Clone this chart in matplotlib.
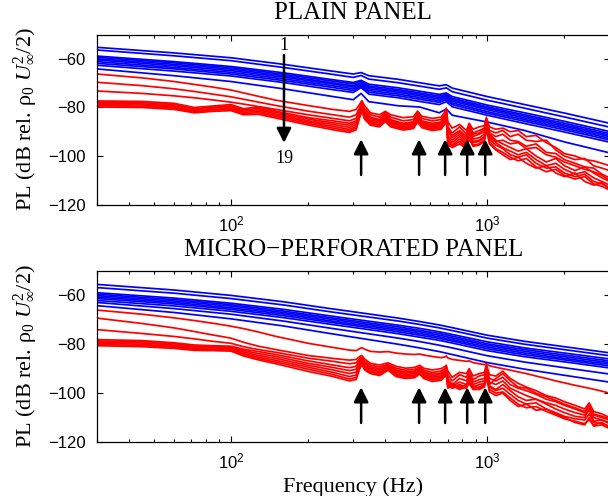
"""
Espectros de presion de pared (PL) para 19 casos,
panel liso arriba y panel micro-perforado abajo.
Salida: out.png
"""

import matplotlib
matplotlib.use("Agg")
import matplotlib.pyplot as plt
from matplotlib.ticker import NullFormatter, LogLocator


# ============================================================
# DATOS
# ============================================================

# --- panel liso: curvas azules (casos 1-10)
PLAIN_FREQ_BLUE = [30, 60, 100, 160, 240, 300, 322, 345, 450, 545,
                   650, 692, 730, 1000, 1400, 2000, 3000]

PLAIN_BLUE_DB = [
    [-55.2, -57.5, -59.5, -62.2, -64.8, -66.2, -65.6, -66.9, -68.4, -69.8, -71.1, -70.6, -72.0, -75.5, -78.8, -82.3, -86.5],
    [-56.3, -58.7, -60.7, -63.5, -66.1, -67.6, -66.8, -68.3, -69.8, -71.2, -72.5, -71.9, -73.5, -77.0, -80.3, -83.9, -88.1],
    [-58.8, -61.1, -63.1, -65.7, -68.3, -69.7, -68.8, -70.4, -71.9, -73.3, -74.6, -74.0, -75.5, -79.0, -82.2, -85.7, -89.9],
    [-59.3, -61.6, -63.6, -66.3, -68.9, -70.3, -69.2, -71.1, -72.6, -74.0, -75.3, -74.6, -76.2, -79.7, -83.0, -86.5, -90.7],
    [-59.9, -62.2, -64.2, -66.9, -69.6, -71.0, -69.8, -71.7, -73.2, -74.6, -75.9, -75.1, -76.8, -80.3, -83.6, -87.2, -91.4],
    [-60.4, -62.8, -64.8, -67.5, -70.1, -71.6, -70.2, -72.3, -73.8, -75.2, -76.5, -75.6, -77.4, -80.9, -84.3, -87.8, -92.0],
    [-61.1, -63.5, -65.5, -68.2, -70.8, -72.3, -70.7, -73.0, -74.5, -75.9, -77.2, -76.2, -78.1, -81.7, -85.0, -88.5, -92.7],
    [-61.8, -64.1, -66.2, -68.9, -71.5, -73.0, -71.2, -73.7, -75.2, -76.6, -77.9, -76.8, -78.8, -82.4, -85.7, -89.2, -93.4],
    [-62.6, -65.0, -67.0, -69.7, -72.4, -73.8, -71.8, -74.5, -76.0, -77.5, -78.8, -77.6, -79.7, -83.2, -86.6, -90.1, -94.3],
    [-64.1, -66.9, -69.3, -72.3, -75.2, -76.8, -74.2, -77.6, -79.3, -79.8, -82.2, -80.6, -83.2, -86.0, -89.5, -94.2, -98.7],
]

# --- panel liso: curvas rojas (casos 11-19)
PLAIN_FREQ_RED = [30, 45, 60, 72, 85, 100, 112, 128, 150, 200,
                  250, 290, 308, 318, 324, 332, 350, 380, 400, 420,
                  470, 515, 535, 555, 610, 660, 682, 692, 702, 730,
                  780, 830, 850, 880, 930, 975, 992, 1020, 1080, 1150,
                  1230, 1320, 1420, 1550, 1700, 1850, 2000, 2200, 2400, 2600,
                  2800, 3000]

PLAIN_RED_DB = [
    [-66.2, -67.8, -69.3, -70.5, -71.6, -72.8, -74.0, -75.4, -77.0, -79.2,
     -80.8, -81.6, -80.8, -78.6, -77.2, -79.2, -82.2, -83.0, -81.6, -83.0,
     -84.2, -83.8, -81.5, -83.6, -84.5, -84.0, -82.0, -80.2, -86.0, -88.5,
     -87.0, -89.5, -86.5, -89.0, -88.0, -87.5, -84.0, -88.0, -89.0, -88.5,
     -90.0, -89.5, -92.0, -91.5, -94.5, -96.5, -99.0, -100.0, -101.5, -102.0,
     -103.0, -104.0],
    [-69.6, -71.0, -72.3, -73.4, -74.5, -75.6, -76.6, -77.8, -79.2, -81.5,
     -83.0, -84.0, -83.0, -80.0, -78.0, -80.5, -83.0, -84.0, -82.0, -84.0,
     -85.5, -85.0, -82.2, -84.5, -85.5, -85.0, -83.0, -81.0, -88.0, -90.5,
     -88.0, -91.0, -87.0, -90.5, -89.5, -88.5, -84.8, -89.5, -90.5, -89.5,
     -92.0, -91.0, -93.5, -94.0, -93.5, -97.5, -100.0, -101.5, -101.0, -104.0,
     -105.0, -106.0],
    [-73.2, -74.2, -75.2, -76.0, -76.9, -77.8, -78.6, -79.6, -80.8, -83.0,
     -84.5, -85.5, -84.5, -81.0, -78.5, -81.5, -84.0, -85.0, -82.5, -85.0,
     -86.5, -86.0, -82.8, -85.5, -86.5, -86.0, -83.5, -81.0, -89.0, -91.5,
     -89.5, -92.0, -87.5, -91.0, -90.5, -89.0, -85.0, -90.5, -92.0, -91.0,
     -93.5, -94.0, -96.0, -95.0, -98.5, -99.0, -101.5, -103.0, -104.5, -105.0,
     -107.5, -109.0],
    [-77.3, -77.5, -78.3, -80.0, -79.4, -78.8, -80.5, -79.8, -81.5, -84.2,
     -85.5, -86.5, -85.5, -81.5, -79.0, -82.0, -84.5, -85.5, -83.0, -85.5,
     -86.8, -86.0, -83.2, -85.8, -87.0, -86.5, -84.5, -82.0, -90.0, -92.5,
     -90.0, -93.0, -88.0, -92.0, -91.0, -90.0, -85.5, -91.0, -93.5, -95.0,
     -96.5, -98.0, -97.0, -100.0, -102.5, -101.0, -104.0, -106.0, -104.5, -107.0,
     -109.0, -110.5],
    [-77.8, -78.0, -78.8, -80.5, -79.8, -79.3, -81.0, -80.4, -82.0, -84.8,
     -86.3, -87.3, -86.2, -82.0, -79.5, -82.6, -85.2, -86.0, -83.6, -86.0,
     -87.3, -86.6, -83.8, -86.3, -87.5, -87.0, -85.0, -82.5, -91.5, -93.5,
     -91.0, -94.0, -89.0, -93.0, -92.5, -91.0, -86.5, -92.0, -94.5, -96.5,
     -98.0, -99.5, -98.5, -101.5, -104.0, -103.0, -105.5, -107.5, -106.5, -109.0,
     -110.5, -112.0],
    [-78.3, -78.5, -79.3, -81.0, -80.3, -79.8, -81.5, -81.0, -82.6, -85.5,
     -87.0, -88.2, -87.0, -82.5, -80.0, -83.2, -85.8, -86.5, -84.2, -86.5,
     -87.8, -87.2, -84.5, -86.8, -88.0, -87.5, -85.5, -83.0, -92.5, -94.5,
     -92.0, -95.0, -90.0, -94.0, -93.5, -92.0, -87.0, -93.0, -95.5, -97.0,
     -99.5, -100.5, -99.5, -103.0, -105.0, -104.5, -107.0, -108.5, -107.5, -110.5,
     -111.5, -113.0],
    [-78.8, -79.0, -79.8, -81.4, -80.8, -80.3, -82.0, -81.6, -83.2, -86.0,
     -87.8, -89.0, -87.8, -83.0, -80.5, -83.8, -86.3, -87.0, -84.8, -87.0,
     -88.3, -87.7, -85.0, -87.3, -88.5, -88.0, -86.0, -83.5, -93.5, -95.5,
     -93.0, -95.5, -91.0, -94.5, -94.0, -92.5, -87.5, -92.0, -94.0, -93.5,
     -95.0, -94.5, -97.0, -96.5, -99.5, -100.5, -102.5, -104.0, -105.5, -106.5,
     -108.0, -110.0],
    [-79.3, -79.5, -80.3, -81.8, -81.2, -80.8, -82.5, -82.2, -83.8, -86.6,
     -88.5, -89.7, -88.5, -83.5, -81.0, -84.3, -86.8, -87.5, -85.3, -87.5,
     -88.8, -88.2, -85.5, -87.8, -89.0, -88.5, -86.5, -84.0, -94.5, -96.0,
     -94.0, -96.5, -92.0, -95.5, -95.0, -93.5, -88.5, -94.0, -97.0, -98.5,
     -100.5, -102.0, -101.0, -104.5, -106.5, -105.5, -108.0, -109.5, -108.5, -111.5,
     -112.5, -114.0],
    [-79.8, -80.0, -80.8, -82.2, -81.6, -81.3, -83.0, -82.8, -84.4, -87.2,
     -89.2, -90.3, -89.2, -84.0, -81.5, -84.8, -87.3, -88.0, -85.8, -88.0,
     -89.3, -88.7, -86.0, -88.3, -89.5, -89.0, -87.0, -84.5, -95.5, -96.5,
     -95.0, -97.0, -93.0, -96.0, -95.5, -94.0, -89.0, -95.0, -97.5, -99.5,
     -101.5, -100.5, -103.0, -105.0, -104.0, -107.0, -108.5, -107.0, -110.5, -112.0,
     -111.0, -113.5],
]

# --- panel micro-perforado: curvas azules
MICRO_FREQ_BLUE = [30, 60, 100, 160, 240, 300, 450, 545, 650, 730,
                   1000, 1400, 2000, 3000]

MICRO_BLUE_DB = [
    [-55.5, -57.8, -60.0, -62.6, -65.3, -66.7, -69.3, -70.7, -72.1, -73.2, -76.3, -78.8, -81.0, -83.5],
    [-56.8, -59.1, -61.3, -63.9, -66.6, -68.0, -70.5, -71.9, -73.3, -74.4, -77.5, -80.0, -82.2, -84.7],
    [-58.9, -61.1, -63.2, -65.7, -68.3, -69.7, -72.2, -73.5, -74.9, -76.0, -79.0, -81.5, -83.6, -86.0],
    [-59.5, -61.7, -63.8, -66.4, -69.0, -70.4, -72.9, -74.3, -75.6, -76.7, -79.8, -82.2, -84.4, -86.8],
    [-60.1, -62.3, -64.4, -67.0, -69.6, -71.0, -73.6, -74.9, -76.3, -77.4, -80.4, -82.9, -85.1, -87.5],
    [-60.7, -62.9, -65.1, -67.6, -70.3, -71.7, -74.2, -75.6, -77.0, -78.1, -81.1, -83.6, -85.8, -88.2],
    [-61.3, -63.5, -65.7, -68.3, -70.9, -72.3, -74.9, -76.3, -77.6, -78.7, -81.8, -84.3, -86.4, -88.9],
    [-62.1, -64.3, -66.5, -69.1, -71.7, -73.1, -75.7, -77.1, -78.4, -79.5, -82.6, -85.1, -87.2, -89.7],
    [-62.9, -65.4, -67.7, -70.5, -73.3, -74.8, -77.5, -78.9, -80.4, -81.5, -84.7, -87.3, -89.6, -92.2],
    [-64.2, -67.0, -69.6, -72.5, -75.5, -77.1, -80.0, -81.5, -83.0, -84.2, -87.5, -90.2, -92.7, -95.5],
]

# --- panel micro-perforado: curvas rojas
MICRO_FREQ_RED = [30, 45, 60, 72, 85, 100, 112, 128, 150, 200,
                  250, 290, 308, 318, 324, 332, 350, 380, 410, 440,
                  480, 520, 545, 565, 610, 660, 682, 692, 702, 730,
                  780, 830, 850, 880, 930, 975, 992, 1020, 1080, 1150,
                  1230, 1320, 1420, 1550, 1700, 1850, 2000, 2200, 2400, 2500,
                  2600, 2800, 3000]

MICRO_RED_DB = [
    [-66.0, -67.7, -69.2, -70.3, -71.4, -72.6, -73.6, -75.0, -76.8, -79.6,
     -81.3, -82.4, -82.6, -81.8, -81.4, -82.0, -82.9, -83.2, -83.0, -83.6,
     -84.0, -84.2, -84.0, -84.4, -85.0, -85.5, -85.2, -84.8, -85.6, -86.2,
     -86.6, -87.0, -86.8, -87.5, -88.0, -88.3, -88.0, -88.8, -89.4, -90.0,
     -90.6, -91.3, -92.0, -93.0, -94.0, -95.0, -95.8, -96.8, -97.6, -98.0,
     -98.4, -99.2, -100.0],
    [-69.3, -71.5, -73.3, -74.8, -76.2, -77.5, -79.2, -80.8, -82.2, -84.6,
     -85.8, -86.5, -86.2, -85.0, -84.6, -86.0, -87.8, -88.5, -87.6, -89.0,
     -89.8, -89.5, -88.6, -89.8, -90.5, -90.0, -89.2, -88.6, -91.0, -93.5,
     -91.5, -92.0, -90.0, -93.0, -92.0, -91.5, -88.2, -92.5, -93.0, -91.0,
     -94.0, -96.0, -97.5, -99.0, -101.0, -102.0, -103.5, -105.0, -106.5, -104.0,
     -107.5, -108.5, -110.0],
    [-74.0, -75.6, -76.8, -77.8, -78.8, -79.6, -81.0, -82.2, -83.3, -85.7,
     -87.0, -88.0, -87.6, -85.8, -85.3, -86.8, -88.5, -89.3, -88.2, -89.8,
     -90.6, -90.3, -89.3, -90.6, -91.5, -91.0, -90.0, -89.4, -92.5, -95.0,
     -92.5, -93.5, -91.0, -94.5, -93.0, -92.5, -89.0, -94.0, -95.0, -93.5,
     -96.5, -98.0, -99.0, -100.5, -102.5, -103.5, -105.0, -106.5, -108.0, -106.0,
     -109.0, -110.0, -111.0],
    [-78.1, -78.5, -79.4, -80.3, -80.6, -80.8, -82.0, -83.0, -84.2, -86.8,
     -88.5, -89.6, -89.0, -86.5, -85.8, -87.5, -89.2, -90.0, -88.6, -90.5,
     -91.3, -91.0, -89.8, -91.3, -92.2, -91.8, -90.6, -89.8, -94.0, -96.5,
     -94.0, -95.0, -92.5, -95.5, -94.5, -94.0, -90.0, -95.5, -96.5, -95.0,
     -98.0, -99.5, -101.0, -102.5, -104.0, -105.0, -106.5, -108.0, -109.0, -107.0,
     -110.0, -111.0, -112.0],
    [-78.6, -79.0, -79.8, -80.8, -81.0, -81.2, -82.6, -83.8, -85.0, -87.8,
     -89.5, -90.8, -90.2, -87.2, -86.3, -88.2, -89.8, -90.6, -89.0, -91.0,
     -91.8, -91.5, -90.2, -91.8, -92.8, -92.4, -91.2, -90.3, -95.0, -97.0,
     -95.5, -96.5, -93.5, -96.5, -95.5, -95.0, -91.0, -96.5, -94.0, -92.0,
     -95.0, -97.5, -98.0, -100.0, -101.5, -103.0, -104.5, -106.0, -107.5, -105.0,
     -108.5, -109.5, -110.5],
    [-79.1, -79.5, -80.3, -81.3, -81.4, -81.6, -83.2, -84.6, -85.8, -88.6,
     -90.5, -92.0, -91.4, -88.0, -86.8, -88.8, -90.4, -91.2, -89.4, -91.6,
     -92.4, -92.0, -90.7, -92.4, -93.4, -93.0, -91.8, -90.8, -96.0, -97.5,
     -96.5, -97.5, -94.5, -97.5, -96.5, -96.0, -92.0, -97.5, -99.0, -98.0,
     -100.5, -103.0, -104.5, -104.0, -106.5, -108.0, -109.5, -110.5, -111.0, -108.5,
     -112.0, -112.5, -113.5],
    [-79.6, -80.0, -80.8, -81.7, -81.8, -82.0, -83.8, -85.3, -86.6, -89.4,
     -91.5, -93.2, -92.6, -88.8, -87.3, -89.4, -91.0, -91.8, -89.8, -92.2,
     -93.0, -92.6, -91.2, -93.0, -94.0, -93.6, -92.4, -91.3, -97.0, -98.0,
     -97.0, -98.0, -95.0, -98.0, -97.5, -96.5, -92.5, -98.5, -100.0, -99.5,
     -102.0, -104.5, -106.0, -105.5, -107.5, -109.0, -110.5, -111.5, -112.5, -111.0,
     -113.0, -112.0, -114.0],
    [-80.1, -80.5, -81.2, -82.1, -82.2, -82.4, -84.3, -85.9, -87.3, -90.2,
     -92.4, -94.2, -93.6, -89.5, -87.8, -90.0, -91.5, -92.3, -90.2, -92.7,
     -93.5, -93.2, -91.7, -93.5, -94.6, -94.2, -92.8, -91.8, -97.5, -96.0,
     -98.0, -96.5, -95.5, -97.0, -98.0, -97.0, -93.0, -97.0, -98.5, -96.5,
     -99.0, -101.5, -103.0, -102.5, -104.5, -106.5, -108.0, -109.5, -110.0, -106.5,
     -111.5, -111.0, -112.5],
    [-80.6, -81.0, -81.7, -82.5, -82.6, -82.8, -84.8, -86.4, -88.0, -91.1,
     -93.2, -95.0, -94.4, -90.0, -88.2, -90.5, -92.0, -92.8, -90.6, -93.2,
     -94.0, -93.7, -92.2, -94.0, -95.2, -94.8, -93.3, -92.3, -98.0, -97.0,
     -98.5, -97.5, -96.0, -98.5, -98.5, -97.5, -93.5, -99.5, -101.0, -100.0,
     -103.0, -105.5, -104.5, -107.0, -106.5, -108.5, -110.0, -112.0, -113.0, -110.0,
     -113.5, -113.0, -114.5],
]

# --- flechas de resonancias (Hz) y flecha de orden de casos
RESONANCE_FREQS = [322, 542, 685, 835, 982]
PLAIN_ARROW_DB = (-107.8, -93.1)
MICRO_ARROW_DB = (-112.2, -97.6)
ORDER_FREQ = 161
ORDER_ARROW_DB = (-58.4, -94.6)
ORDER_LABELS = ["1", "19"]
ORDER_LABEL_DB = [-54.6, -100.9]

XTICKS = [100, 1000]
XTICK_LABELS = [r"$\mathsf{10^{2}}$", r"$\mathsf{10^{3}}$"]
YTICKS = [-120, -100, -80, -60]

SERIF = "Liberation Serif"


# ============================================================
# CONFIGURACION
# ============================================================

plt.rcParams["font.family"] = "Liberation Sans"
plt.rcParams["mathtext.fontset"] = "custom"
plt.rcParams["mathtext.rm"] = "Liberation Serif"
plt.rcParams["mathtext.it"] = "Liberation Serif:italic"
plt.rcParams["mathtext.sf"] = "Liberation Sans"


# ============================================================
# FUNCIONES
# ============================================================

def add_arrow(ax, freq, tail, tip):

    ax.annotate(
        "",
        xy=(freq, tip),
        xytext=(freq, tail),
        arrowprops=dict(
            arrowstyle="-|>",
            color="black",
            lw=1.8,
            mutation_scale=22,
            shrinkA=0,
            shrinkB=0,
        ),
    )


def draw_panel(ax, title, freq_blue, blue_db, freq_red, red_db, arrow_db):

    for values in blue_db:
        ax.plot(freq_blue, values, color="blue", lw=1.25)

    for values in red_db:
        ax.plot(freq_red, values, color="red", lw=1.25)

    for freq in RESONANCE_FREQS:
        add_arrow(ax, freq, arrow_db[0], arrow_db[1])

    ax.set_xscale("log")
    ax.set_xlim(30, 3000)
    ax.set_ylim(-120, -50)

    ax.set_xticks(XTICKS)
    ax.set_xticklabels(XTICK_LABELS)
    ax.xaxis.set_minor_locator(LogLocator(base=10, subs=range(2, 10)))
    ax.xaxis.set_minor_formatter(NullFormatter())
    ax.set_yticks(YTICKS)

    ax.tick_params(which="both", direction="in", top=True, right=True,
                   labelsize=12, width=0.8)
    ax.tick_params(which="major", length=4)
    ax.tick_params(which="minor", length=2.5)
    ax.tick_params(axis="y", pad=8)
    ax.tick_params(axis="x", pad=7)

    for spine in ax.spines.values():
        spine.set_linewidth(0.9)

    ax.set_title(title, fontsize=18, family=SERIF, pad=11)
    ax.set_ylabel(r"PL (dB rel. $\mathrm{\rho}_0$ $U_\infty^2/2$)",
                  fontsize=16, family=SERIF)
    ax.yaxis.set_label_coords(-0.112, 0.5)


# ============================================================
# FIGURA
# ============================================================

def main() -> None:

    fig = plt.figure(figsize=(6.08, 4.96), dpi=100)

    ax_top = fig.add_axes([0.1595, 0.5877, 0.8430, 0.3423])
    ax_bot = fig.add_axes([0.1595, 0.1089, 0.8430, 0.3448])

    draw_panel(ax_top, "PLAIN PANEL", PLAIN_FREQ_BLUE, PLAIN_BLUE_DB,
               PLAIN_FREQ_RED, PLAIN_RED_DB, PLAIN_ARROW_DB)

    draw_panel(ax_bot, "MICRO\u2212PERFORATED PANEL", MICRO_FREQ_BLUE,
               MICRO_BLUE_DB, MICRO_FREQ_RED, MICRO_RED_DB, MICRO_ARROW_DB)

    # flecha 1 -> 19
    add_arrow(ax_top, ORDER_FREQ, ORDER_ARROW_DB[0], ORDER_ARROW_DB[1])
    for label, level in zip(ORDER_LABELS, ORDER_LABEL_DB):
        ax_top.text(ORDER_FREQ, level, label, ha="center", va="center",
                    fontsize=13, family=SERIF)

    ax_bot.set_xlabel("Frequency (Hz)", fontsize=16, family=SERIF,
                      labelpad=4)

    fig.savefig("out.png", dpi=100)
    plt.close(fig)


if __name__ == "__main__":
    main()
